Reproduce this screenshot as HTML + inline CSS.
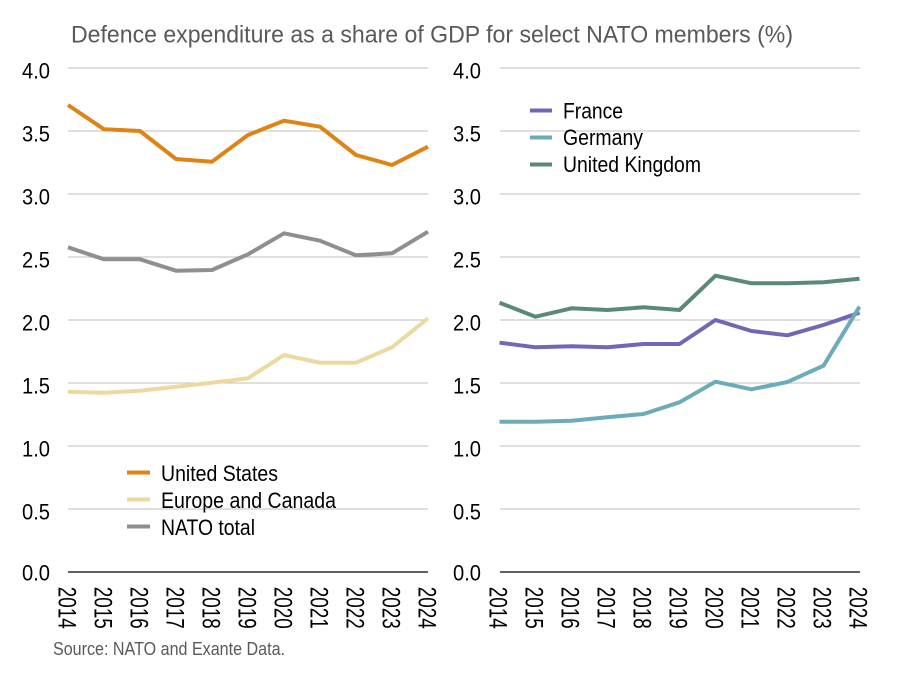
<!DOCTYPE html>
<html><head><meta charset="utf-8"><style>
html,body{margin:0;padding:0;background:#fff;}
svg{display:block;}
text{font-family:"Liberation Sans",Arial,sans-serif;}
</style></head><body>
<svg width="904" height="678" viewBox="0 0 904 678" xmlns="http://www.w3.org/2000/svg">
<rect width="904" height="678" fill="#fff"/>
<text x="71" y="42.5" font-size="24" fill="#595959" textLength="722" lengthAdjust="spacingAndGlyphs">Defence expenditure as a share of GDP for select NATO members (%)</text>

<g stroke="#BFBFBF" stroke-width="1">
<line x1="68" y1="68" x2="428" y2="68"/>
<line x1="68" y1="131" x2="428" y2="131"/>
<line x1="68" y1="194" x2="428" y2="194"/>
<line x1="68" y1="257" x2="428" y2="257"/>
<line x1="68" y1="320" x2="428" y2="320"/>
<line x1="68" y1="383" x2="428" y2="383"/>
<line x1="68" y1="446" x2="428" y2="446"/>
<line x1="68" y1="509" x2="428" y2="509"/>
<line x1="500" y1="68" x2="860" y2="68"/>
<line x1="500" y1="131" x2="860" y2="131"/>
<line x1="500" y1="194" x2="860" y2="194"/>
<line x1="500" y1="257" x2="860" y2="257"/>
<line x1="500" y1="320" x2="860" y2="320"/>
<line x1="500" y1="383" x2="860" y2="383"/>
<line x1="500" y1="446" x2="860" y2="446"/>
<line x1="500" y1="509" x2="860" y2="509"/>
</g>
<line x1="68" y1="572" x2="428" y2="572" stroke="#000" stroke-width="1.3"/>
<line x1="500" y1="572" x2="860" y2="572" stroke="#000" stroke-width="1.3"/>

<g font-size="22" fill="#000" text-anchor="end">
<text x="50" y="78.5" textLength="28" lengthAdjust="spacingAndGlyphs">4.0</text>
<text x="50" y="141.5" textLength="28" lengthAdjust="spacingAndGlyphs">3.5</text>
<text x="50" y="204.5" textLength="28" lengthAdjust="spacingAndGlyphs">3.0</text>
<text x="50" y="267.5" textLength="28" lengthAdjust="spacingAndGlyphs">2.5</text>
<text x="50" y="330.5" textLength="28" lengthAdjust="spacingAndGlyphs">2.0</text>
<text x="50" y="393.5" textLength="28" lengthAdjust="spacingAndGlyphs">1.5</text>
<text x="50" y="456.5" textLength="28" lengthAdjust="spacingAndGlyphs">1.0</text>
<text x="50" y="519.5" textLength="28" lengthAdjust="spacingAndGlyphs">0.5</text>
<text x="50" y="580.5" textLength="28" lengthAdjust="spacingAndGlyphs">0.0</text>
<text x="481" y="78.5" textLength="28" lengthAdjust="spacingAndGlyphs">4.0</text>
<text x="481" y="141.5" textLength="28" lengthAdjust="spacingAndGlyphs">3.5</text>
<text x="481" y="204.5" textLength="28" lengthAdjust="spacingAndGlyphs">3.0</text>
<text x="481" y="267.5" textLength="28" lengthAdjust="spacingAndGlyphs">2.5</text>
<text x="481" y="330.5" textLength="28" lengthAdjust="spacingAndGlyphs">2.0</text>
<text x="481" y="393.5" textLength="28" lengthAdjust="spacingAndGlyphs">1.5</text>
<text x="481" y="456.5" textLength="28" lengthAdjust="spacingAndGlyphs">1.0</text>
<text x="481" y="519.5" textLength="28" lengthAdjust="spacingAndGlyphs">0.5</text>
<text x="481" y="580.5" textLength="28" lengthAdjust="spacingAndGlyphs">0.0</text>
</g>

<g font-size="25" fill="#000">
<text transform="translate(58.5,586.7) rotate(90)" textLength="42" lengthAdjust="spacingAndGlyphs">2014</text>
<text transform="translate(94.5,586.7) rotate(90)" textLength="42" lengthAdjust="spacingAndGlyphs">2015</text>
<text transform="translate(130.5,586.7) rotate(90)" textLength="42" lengthAdjust="spacingAndGlyphs">2016</text>
<text transform="translate(166.5,586.7) rotate(90)" textLength="42" lengthAdjust="spacingAndGlyphs">2017</text>
<text transform="translate(202.5,586.7) rotate(90)" textLength="42" lengthAdjust="spacingAndGlyphs">2018</text>
<text transform="translate(238.5,586.7) rotate(90)" textLength="42" lengthAdjust="spacingAndGlyphs">2019</text>
<text transform="translate(274.5,586.7) rotate(90)" textLength="42" lengthAdjust="spacingAndGlyphs">2020</text>
<text transform="translate(310.5,586.7) rotate(90)" textLength="42" lengthAdjust="spacingAndGlyphs">2021</text>
<text transform="translate(346.5,586.7) rotate(90)" textLength="42" lengthAdjust="spacingAndGlyphs">2022</text>
<text transform="translate(382.5,586.7) rotate(90)" textLength="42" lengthAdjust="spacingAndGlyphs">2023</text>
<text transform="translate(418.5,586.7) rotate(90)" textLength="42" lengthAdjust="spacingAndGlyphs">2024</text>
<text transform="translate(489.5,586.7) rotate(90)" textLength="42" lengthAdjust="spacingAndGlyphs">2014</text>
<text transform="translate(525.5,586.7) rotate(90)" textLength="42" lengthAdjust="spacingAndGlyphs">2015</text>
<text transform="translate(561.5,586.7) rotate(90)" textLength="42" lengthAdjust="spacingAndGlyphs">2016</text>
<text transform="translate(597.5,586.7) rotate(90)" textLength="42" lengthAdjust="spacingAndGlyphs">2017</text>
<text transform="translate(633.5,586.7) rotate(90)" textLength="42" lengthAdjust="spacingAndGlyphs">2018</text>
<text transform="translate(669.5,586.7) rotate(90)" textLength="42" lengthAdjust="spacingAndGlyphs">2019</text>
<text transform="translate(705.5,586.7) rotate(90)" textLength="42" lengthAdjust="spacingAndGlyphs">2020</text>
<text transform="translate(741.5,586.7) rotate(90)" textLength="42" lengthAdjust="spacingAndGlyphs">2021</text>
<text transform="translate(777.5,586.7) rotate(90)" textLength="42" lengthAdjust="spacingAndGlyphs">2022</text>
<text transform="translate(813.5,586.7) rotate(90)" textLength="42" lengthAdjust="spacingAndGlyphs">2023</text>
<text transform="translate(849.5,586.7) rotate(90)" textLength="42" lengthAdjust="spacingAndGlyphs">2024</text>
</g>

<g fill="none" stroke-width="4" stroke-linejoin="round">
<polyline stroke="#DE8416" points="68,105 104,129.3 140,131 176,159 212,161.7 248,135 284,120.7 320,126.7 356,155 392,165 428,146.7"/>
<polyline stroke="#EDD9A0" points="68,391.7 104,392.7 140,390.7 176,386.7 212,382.7 248,378.3 284,355 320,362.7 356,362.7 392,347.3 428,318.3"/>
<polyline stroke="#8F8F8F" points="68,247.3 104,259.3 140,259.3 176,270.7 212,270 248,254.3 284,233.3 320,240.7 356,255.3 392,253.3 428,231.7"/>
</g>

<g fill="none" stroke-width="4" stroke-linejoin="round">
<polyline stroke="#7466B6" points="499.5,342.7 535.5,347.3 571.5,346.3 607.5,347.3 643.5,344 679.5,344 715.5,320 751.5,331 787.5,335.3 823.5,325 859.5,312.7"/>
<polyline stroke="#6AADB8" points="499.5,421.7 535.5,421.7 571.5,420.7 607.5,417.3 643.5,414 679.5,402.3 715.5,381.7 751.5,389.3 787.5,382 823.5,365.7 859.5,306.7"/>
<polyline stroke="#5A8A76" points="499.5,302.7 535.5,316.7 571.5,308.3 607.5,310 643.5,307.3 679.5,310 715.5,275.7 751.5,283.3 787.5,283.3 823.5,282.3 859.5,278.7"/>
</g>

<g stroke-width="4">
<line x1="127" y1="472.5" x2="150" y2="472.5" stroke="#DE8416"/>
<line x1="127" y1="499.5" x2="150" y2="499.5" stroke="#EDD9A0"/>
<line x1="127" y1="526.5" x2="150" y2="526.5" stroke="#8F8F8F"/>
<line x1="530" y1="110.5" x2="552" y2="110.5" stroke="#7466B6"/>
<line x1="530" y1="137.5" x2="552" y2="137.5" stroke="#6AADB8"/>
<line x1="530" y1="164.5" x2="552" y2="164.5" stroke="#5A8A76"/>
</g>
<g font-size="22" fill="#000">
<text x="161" y="481" textLength="117" lengthAdjust="spacingAndGlyphs">United States</text>
<text x="161" y="508" textLength="175" lengthAdjust="spacingAndGlyphs">Europe and Canada</text>
<text x="161" y="535" textLength="94" lengthAdjust="spacingAndGlyphs">NATO total</text>
<text x="563" y="118.5" textLength="60" lengthAdjust="spacingAndGlyphs">France</text>
<text x="563" y="145" textLength="80" lengthAdjust="spacingAndGlyphs">Germany</text>
<text x="563" y="172" textLength="138" lengthAdjust="spacingAndGlyphs">United Kingdom</text>
</g>

<text x="53" y="655" font-size="18.5" fill="#595959" textLength="232" lengthAdjust="spacingAndGlyphs">Source: NATO and Exante Data.</text>
</svg>
</body></html>
